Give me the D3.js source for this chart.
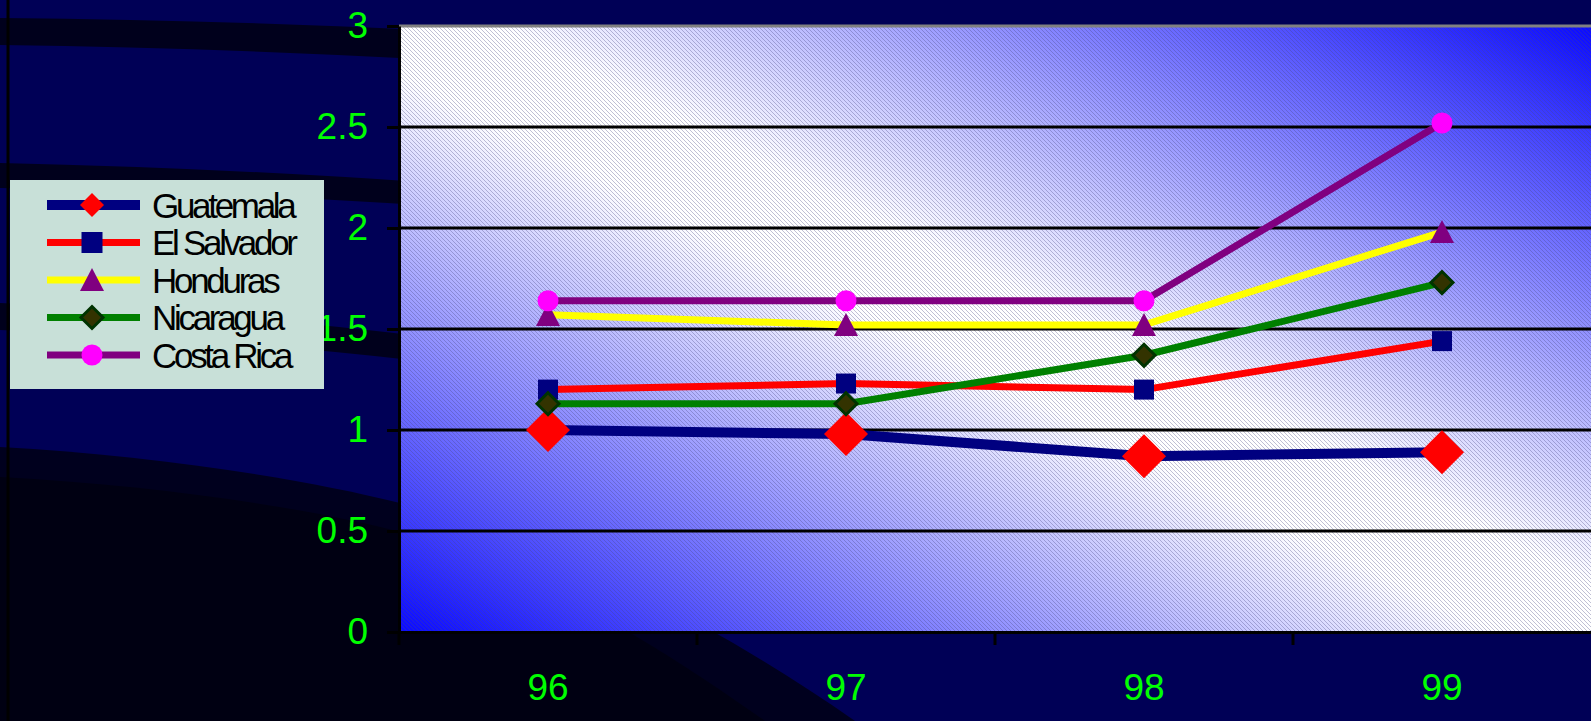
<!DOCTYPE html>
<html>
<head>
<meta charset="utf-8">
<script src="https://cdn.jsdelivr.net/npm/d3@7"></script>
<style>
  html, body { margin: 0; padding: 0; background: #000058; overflow: hidden; }
  svg { display: block; }
</style>
</head>
<body>
<svg id="chart" width="1591" height="721"></svg>
<script>
// Categories (years) and value axis ticks
const years = ["96", "97", "98", "99"];
const yTicks = [0, 0.5, 1, 1.5, 2, 2.5, 3];

// Series values per year
const guatemala  = [1.00, 0.98, 0.87, 0.89];
const elSalvador = [1.20, 1.23, 1.20, 1.44];
const honduras   = [1.57, 1.52, 1.52, 1.98];
const nicaragua  = [1.13, 1.13, 1.37, 1.73];
const costaRica  = [1.64, 1.64, 1.64, 2.52];

const seriesNames = ["Guatemala", "El Salvador", "Honduras", "Nicaragua", "Costa Rica"];
const seriesValues = [guatemala, elSalvador, honduras, nicaragua, costaRica];

// Visual styling for each series
const styles = [
  { line: "#000080", width: 10, shape: "diamond", fill: "#FF0000", stroke: "none", r: 22, lr: 12 },
  { line: "#FF0000", width: 7,  shape: "square",  fill: "#000080", stroke: "none", r: 10, lr: 10.5 },
  { line: "#FFFF00", width: 7,  shape: "triangle",fill: "#800080", stroke: "none", r: 12, lr: 12 },
  { line: "#008000", width: 7,  shape: "diamond", fill: "#333300", stroke: "#003300", r: 11, lr: 11 },
  { line: "#800080", width: 7,  shape: "circle",  fill: "#FF00FF", stroke: "none", r: 10.5, lr: 10.5 }
];

const W = 1591, H = 721;
const plot = { left: 399, top: 26, right: 1591, bottom: 632 };
const FONT = "'Liberation Sans', Arial, sans-serif";

const svg = d3.select("#chart");
const defs = svg.append("defs");

// Plot area gradient: blue corners, pale diagonal band
const grad = defs.append("linearGradient")
  .attr("id", "plotGrad")
  .attr("x1", 0).attr("y1", 1).attr("x2", 1).attr("y2", 0);
grad.append("stop").attr("offset", "0%").attr("stop-color", "#0a0aff");
grad.append("stop").attr("offset", "46%").attr("stop-color", "#ffffff");
grad.append("stop").attr("offset", "54%").attr("stop-color", "#ffffff");
grad.append("stop").attr("offset", "100%").attr("stop-color", "#0a0aff");

// Fine diagonal hatch over the plot area
const hatch = defs.append("pattern")
  .attr("id", "hatch")
  .attr("patternUnits", "userSpaceOnUse")
  .attr("width", 4).attr("height", 4);
hatch.append("path")
  .attr("d", "M-1,-1 L5,5 M-1,3 L1,5 M3,-1 L5,1")
  .attr("stroke", "rgba(70,70,130,0.34)")
  .attr("stroke-width", 1);

// ---- Background ----
svg.append("rect").attr("width", W).attr("height", H).attr("fill", "#000056");

const bg = svg.append("g").attr("class", "backdrop");
bg.append("path")
  .attr("d", "M0,18 Q220,20 420,30 L420,59 Q220,48 0,45 Z")
  .attr("fill", "#00001c");
bg.append("path")
  .attr("d", "M0,163 Q220,168 420,182 L420,205 Q220,192 0,188 Z")
  .attr("fill", "#00001c");
bg.append("path")
  .attr("d", "M0,303 Q220,312 420,336 L420,361 Q220,338 0,330 Z")
  .attr("fill", "#00001c");
bg.append("path")
  .attr("d", "M0,447 C150,455 300,478 400,503 C560,545 710,620 855,721 L0,721 Z")
  .attr("fill", "#00001e");
bg.append("path")
  .attr("d", "M0,477 C150,485 300,506 400,532 C540,572 650,640 765,721 L0,721 Z")
  .attr("fill", "#000012");
bg.append("line")
  .attr("x1", 8).attr("x2", 8).attr("y1", 0).attr("y2", H)
  .attr("stroke", "#000000").attr("stroke-width", 3);

// ---- Scales ----
const x = d3.scaleBand().domain(years).range([plot.left, plot.right]);
const y = d3.scaleLinear().domain([0, 3]).range([plot.bottom, plot.top]);

// ---- Plot area ----
svg.append("rect")
  .attr("x", plot.left).attr("y", plot.top)
  .attr("width", plot.right - plot.left).attr("height", plot.bottom - plot.top)
  .attr("fill", "url(#plotGrad)");
svg.append("rect")
  .attr("x", plot.left).attr("y", plot.top)
  .attr("width", plot.right - plot.left).attr("height", plot.bottom - plot.top)
  .attr("fill", "url(#hatch)");

// Horizontal gridlines
svg.append("g").selectAll("line")
  .data(yTicks.filter(t => t > 0 && t < 3))
  .join("line")
  .attr("x1", plot.left).attr("x2", plot.right)
  .attr("y1", d => y(d)).attr("y2", d => y(d))
  .attr("stroke", "#000").attr("stroke-width", 3);

// Top border of the plot area
svg.append("line")
  .attr("x1", plot.left).attr("x2", plot.right)
  .attr("y1", y(3)).attr("y2", y(3))
  .attr("stroke", "#808080").attr("stroke-width", 3);

// ---- Y axis ----
const yAxis = svg.append("g")
  .attr("transform", `translate(${plot.left},0)`)
  .call(d3.axisLeft(y).tickValues(yTicks).tickSize(12).tickPadding(19).tickSizeOuter(0)
    .tickFormat(d3.format("")));
yAxis.select(".domain").attr("stroke", "#000").attr("stroke-width", 3);
yAxis.selectAll(".tick line").attr("stroke", "#000").attr("stroke-width", 3);
yAxis.selectAll(".tick text")
  .attr("fill", "#00FF00").attr("font-size", 37).attr("font-family", FONT)
  .attr("dy", "0.3em");

// ---- X axis ----
const xAxis = svg.append("g")
  .attr("transform", `translate(0,${plot.bottom})`)
  .call(d3.axisBottom(x).tickSize(0).tickPadding(42).tickSizeOuter(0));
xAxis.select(".domain").attr("stroke", "#000").attr("stroke-width", 3);
xAxis.selectAll(".tick text")
  .attr("fill", "#00FF00").attr("font-size", 37).attr("font-family", FONT);

// Category boundary tick marks
svg.append("g").selectAll("line")
  .data(years)
  .join("line")
  .attr("x1", d => x(d)).attr("x2", d => x(d))
  .attr("y1", plot.bottom).attr("y2", plot.bottom + 13)
  .attr("stroke", "#000").attr("stroke-width", 3);

// ---- Marker shapes ----
function markerPath(shape, r) {
  const p = d3.path();
  if (shape === "diamond") {
    p.moveTo(0, -r); p.lineTo(r, 0); p.lineTo(0, r); p.lineTo(-r, 0); p.closePath();
  } else if (shape === "square") {
    p.rect(-r, -r, 2 * r, 2 * r);
  } else if (shape === "triangle") {
    p.moveTo(0, -r); p.lineTo(r, r * 0.92); p.lineTo(-r, r * 0.92); p.closePath();
  } else {
    p.arc(0, 0, r, 0, 2 * Math.PI);
  }
  return p.toString();
}

// ---- Series lines ----
const line = d3.line()
  .x((d, i) => x(years[i]) + x.bandwidth() / 2)
  .y(d => y(d));

const series = seriesValues.map((vals, i) => ({ name: seriesNames[i], vals, style: styles[i] }));

svg.append("g").selectAll("path")
  .data(series)
  .join("path")
  .attr("d", d => line(d.vals))
  .attr("fill", "none")
  .attr("stroke", d => d.style.line)
  .attr("stroke-width", d => d.style.width)
  .attr("stroke-linejoin", "round");

// ---- Markers ----
series.forEach(s => {
  svg.append("g").selectAll("path")
    .data(s.vals)
    .join("path")
    .attr("transform", (d, i) => `translate(${x(years[i]) + x.bandwidth() / 2},${y(d)})`)
    .attr("d", markerPath(s.style.shape, s.style.r))
    .attr("fill", s.style.fill)
    .attr("stroke", s.style.stroke)
    .attr("stroke-width", s.style.stroke === "none" ? 0 : 3);
});

// ---- Legend ----
const legend = svg.append("g").attr("class", "legend");
legend.append("rect")
  .attr("x", 10).attr("y", 180).attr("width", 314).attr("height", 209)
  .attr("fill", "#C8E0D8");

const rows = legend.selectAll("g.row")
  .data(series)
  .join("g")
  .attr("class", "row")
  .attr("transform", (d, i) => `translate(0,${205 + i * 37.5})`);
rows.append("line")
  .attr("x1", 47).attr("x2", 140).attr("y1", 0).attr("y2", 0)
  .attr("stroke", d => d.style.line)
  .attr("stroke-width", d => d.style.width);
rows.append("path")
  .attr("transform", "translate(92,0)")
  .attr("d", d => markerPath(d.style.shape, d.style.lr))
  .attr("fill", d => d.style.fill)
  .attr("stroke", d => d.style.stroke)
  .attr("stroke-width", d => d.style.stroke === "none" ? 0 : 3);
rows.append("text")
  .attr("x", 152).attr("y", 0).attr("dy", "0.37em")
  .attr("font-family", FONT).attr("font-size", 35)
  .attr("letter-spacing", "-3.3px")
  .attr("fill", "#000")
  .text(d => d.name);
</script>
</body>
</html>
